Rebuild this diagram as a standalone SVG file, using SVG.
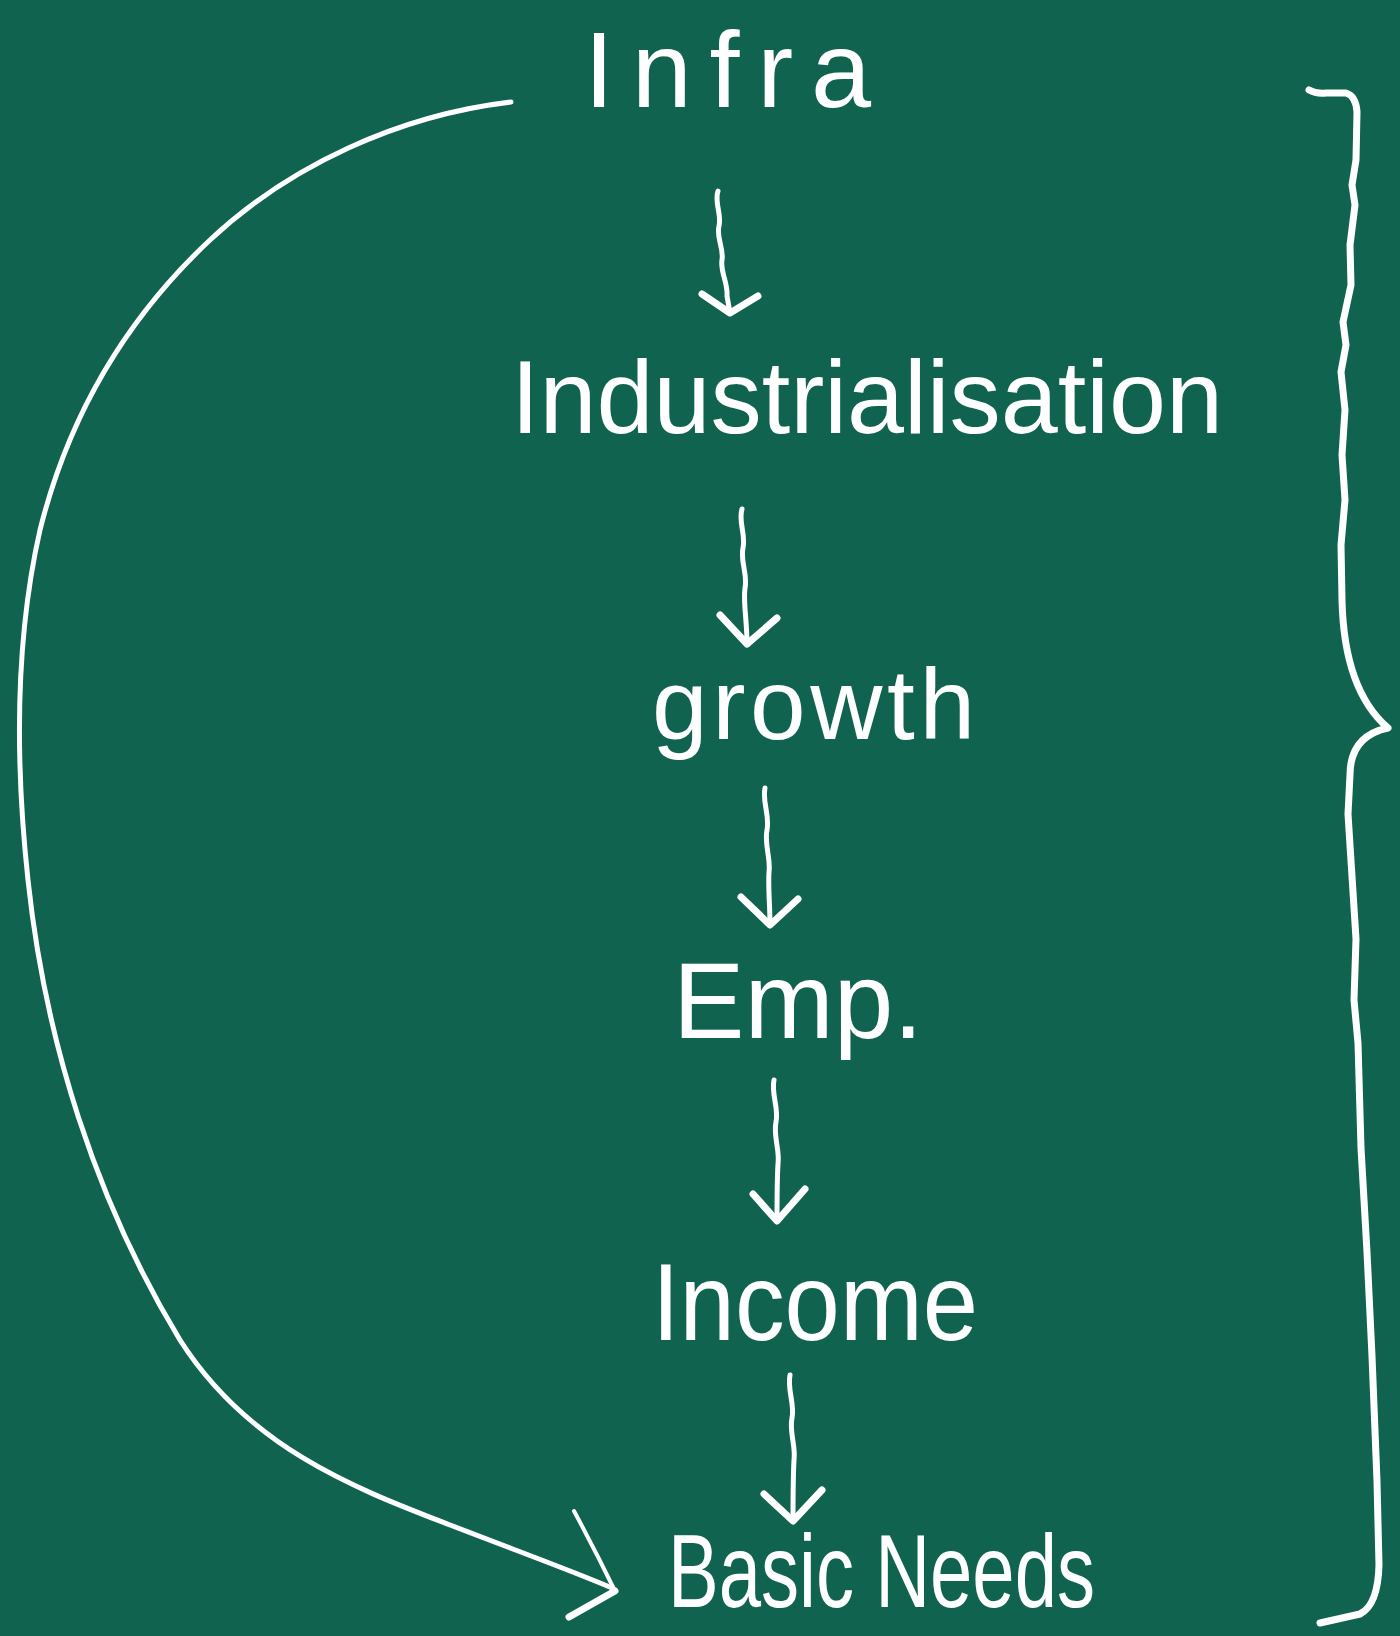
<svg xmlns="http://www.w3.org/2000/svg" width="1400" height="1636" viewBox="0 0 1400 1636">
<defs>
<style>
.lbl{font-family:"Liberation Sans",Arial,sans-serif;fill:#ffffff;}
.ln{stroke:#ffffff;fill:none;stroke-linecap:round;stroke-linejoin:round;}
</style>
</defs>
<rect x="0" y="0" width="1400" height="1636" fill="#10634F"/>
<g id="node-infra"><text class="lbl" x="584" y="107" font-size="108" textLength="287" lengthAdjust="spacing">Infra</text></g>
<g id="node-industrialisation"><text class="lbl" x="511" y="433" font-size="104" textLength="712" lengthAdjust="spacingAndGlyphs">Industrialisation</text></g>
<g id="node-growth"><text class="lbl" x="652" y="739" font-size="100" textLength="323" lengthAdjust="spacing">growth</text></g>
<g id="node-emp"><text class="lbl" x="673" y="1038" font-size="108" textLength="250" lengthAdjust="spacingAndGlyphs">Emp.</text></g>
<g id="node-income"><text class="lbl" x="652" y="1340" font-size="110" textLength="326" lengthAdjust="spacingAndGlyphs">Income</text></g>
<g id="node-basic-needs"><text class="lbl" x="668" y="1607" font-size="104" textLength="427" lengthAdjust="spacingAndGlyphs">Basic Needs</text></g>
<g id="brace"><path class="ln" stroke-width="7" d="M1309,90 Q1316,94 1326,93 L1346,93 Q1356,96 1357,112 L1356,160 1352,185 1355,205 1350,245 1351,285 1343,322 1346,345 1341,372 1345,410 1342,455 1345,500 1341,545 1342,600 Q1344,690 1388,728 Q1350,736 1350,775 L1348,814 1356,939 1354,1000 1358,1043 1361,1148 1367,1252 1372,1356 1377,1481 1379,1565 Q1378,1605 1360,1614 L1320,1623"/></g>
<g id="connectors">
<path class="ln" stroke-width="5" d="M511,102 C400,115 290,165 210,240 C130,315 70,410 40,530 C15,640 15,760 28,880 C45,1040 95,1200 180,1340 C250,1450 360,1490 450,1525 C520,1552 575,1572 612,1588"/>
<path class="ln" stroke-width="4" d="M574,1511 Q595,1550 615,1591"/>
<path class="ln" stroke-width="7" d="M615,1591 L569,1617"/>
<path class="ln" stroke-width="5" d="M718,191 C714,203 722,214 719,226 C716,238 724,248 722,260 C720,272 728,282 727,296 L730,313"/>
<path class="ln" stroke-width="7" d="M702,294 L730,313 L758,296"/>
<path class="ln" stroke-width="5" d="M742,509 C738,522 746,534 743,548 C740,562 748,574 745,588 C743,602 747,620 747,644"/>
<path class="ln" stroke-width="7" d="M720,615 L747,644 L777,618"/>
<path class="ln" stroke-width="5" d="M765,788 C762,802 770,815 767,830 C764,845 771,858 769,872 C768,888 770,905 770,925"/>
<path class="ln" stroke-width="7" d="M741,897 L770,925 L798,899"/>
<path class="ln" stroke-width="5" d="M774,1080 C771,1094 779,1108 776,1122 C773,1136 780,1150 778,1164 C777,1180 777,1200 777,1221"/>
<path class="ln" stroke-width="7" d="M753,1194 L777,1221 L805,1189"/>
<path class="ln" stroke-width="5" d="M790,1375 C787,1390 795,1404 792,1418 C789,1432 796,1446 794,1460 C793,1478 793,1500 793,1521"/>
<path class="ln" stroke-width="7" d="M764,1494 L793,1521 L822,1490"/>
</g>
</svg>
